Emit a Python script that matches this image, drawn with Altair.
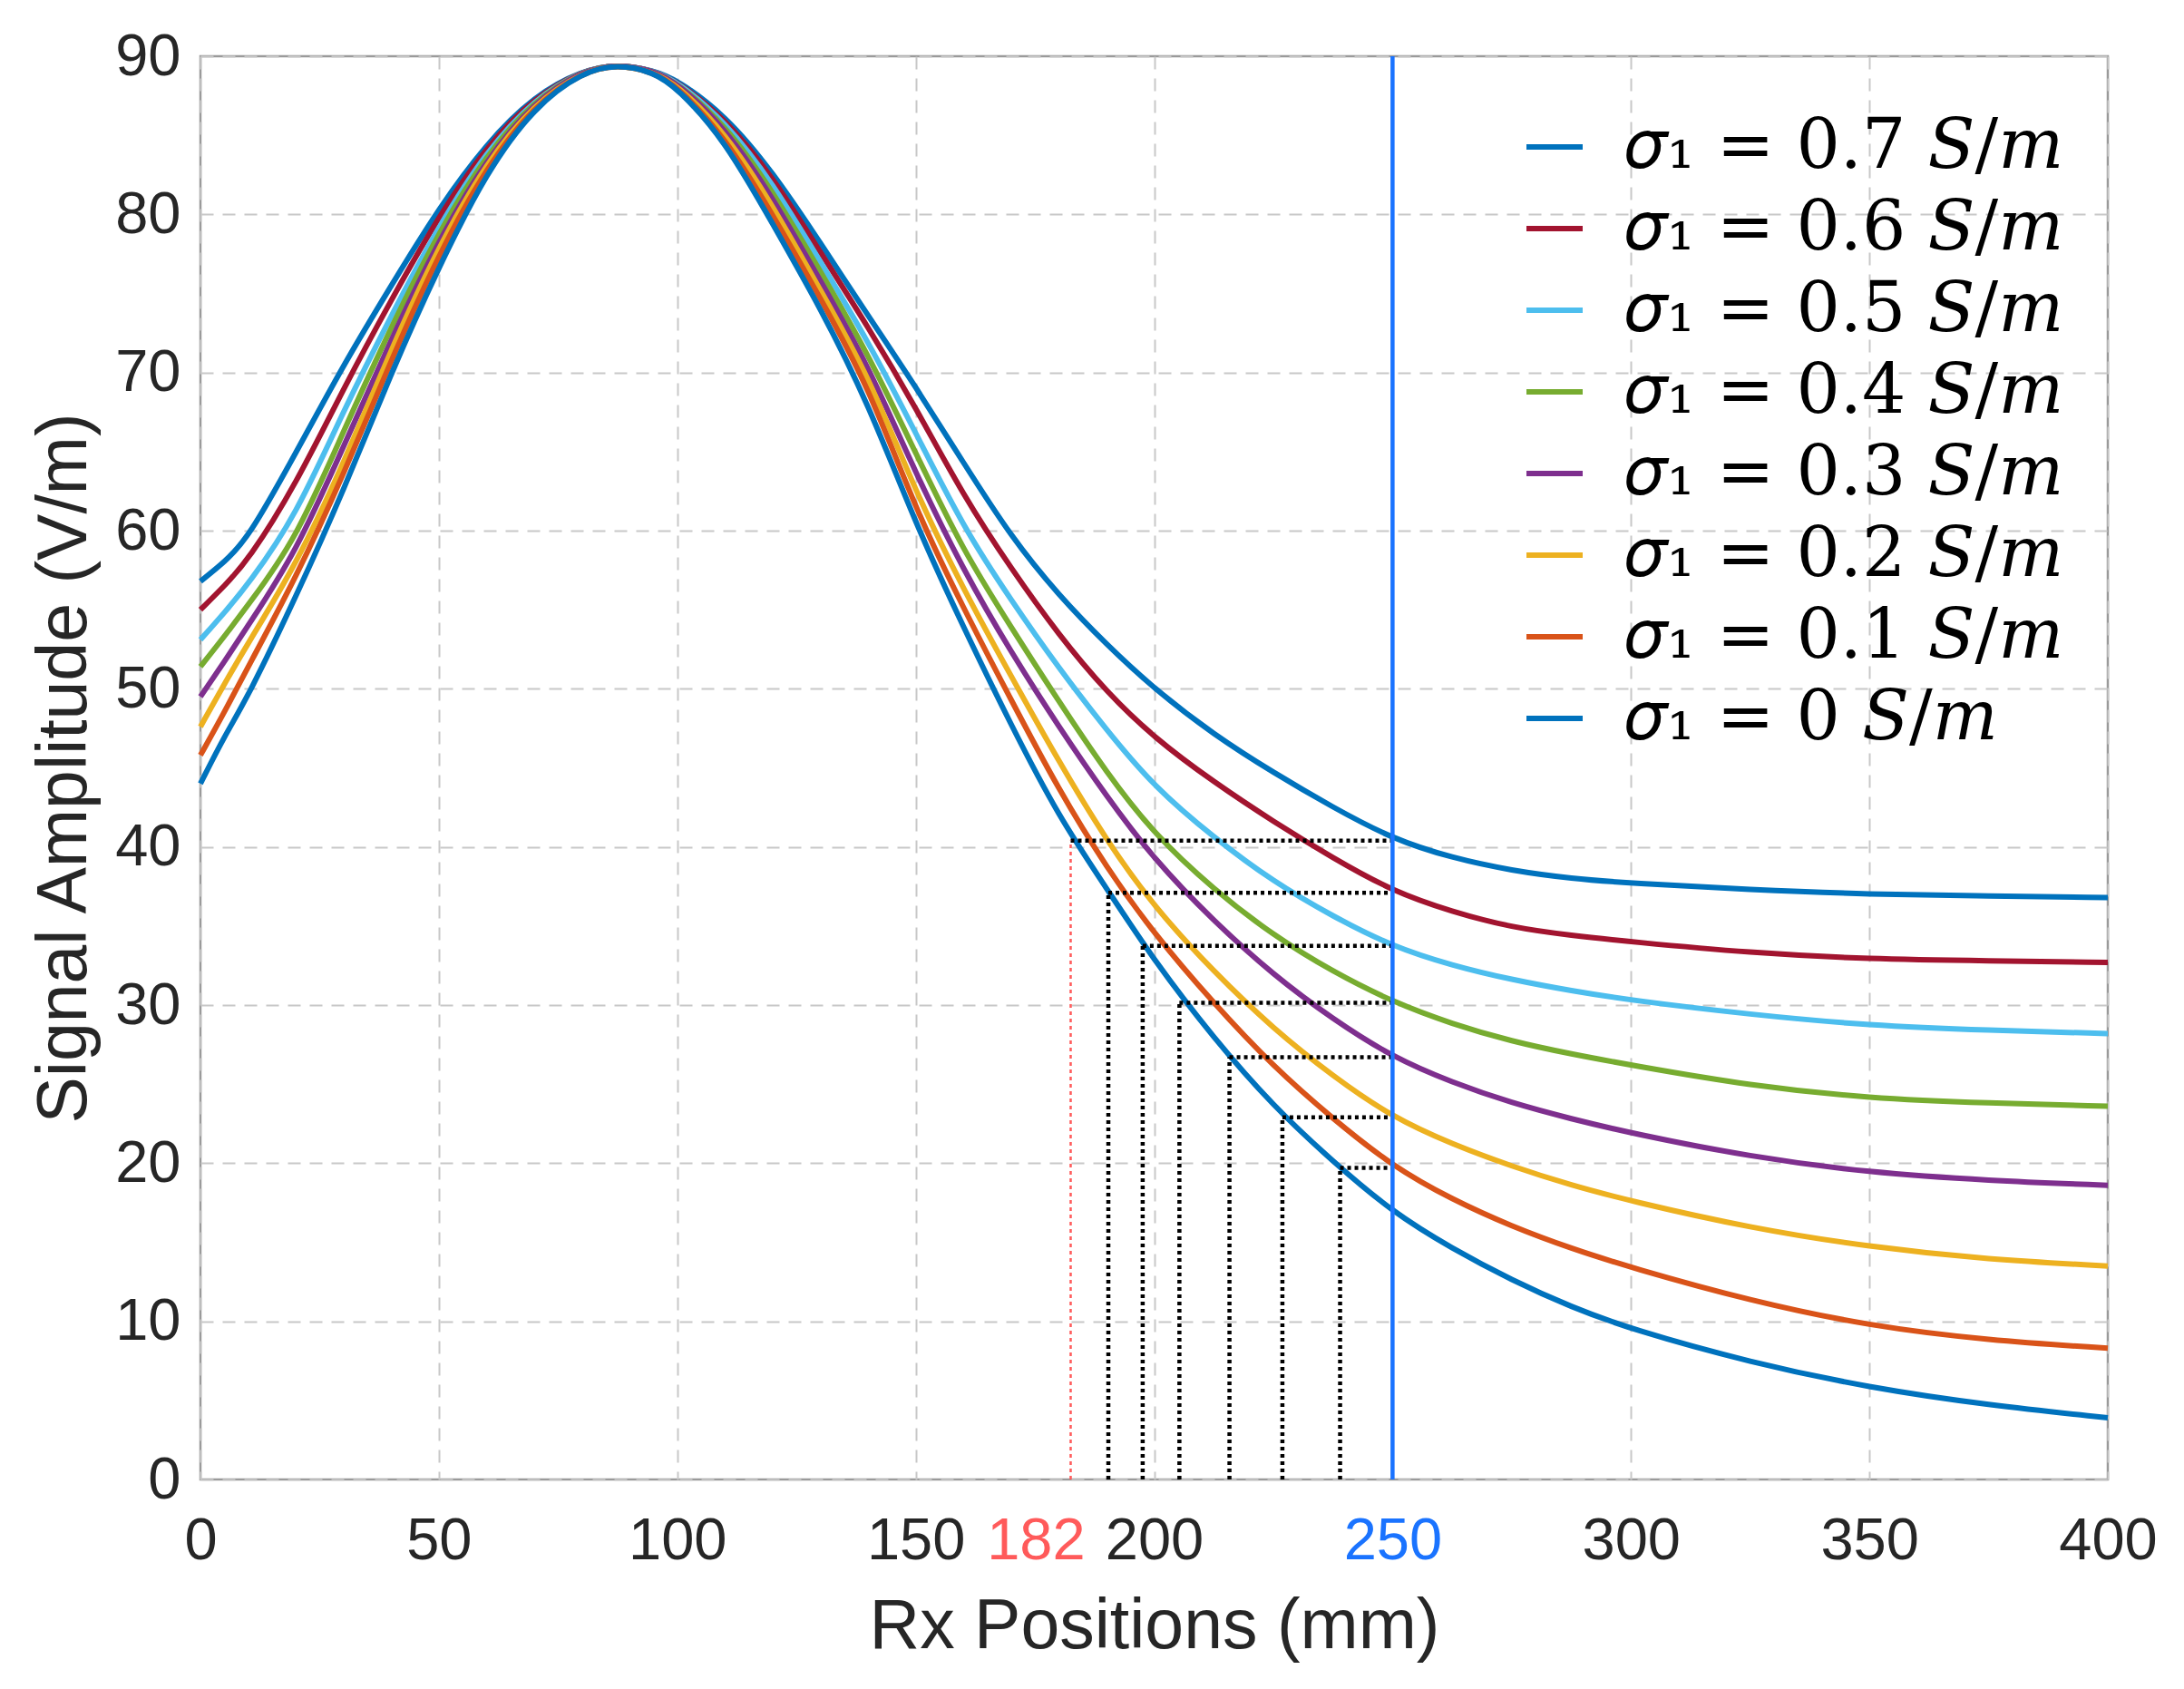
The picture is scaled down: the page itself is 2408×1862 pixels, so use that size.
import pandas as pd
import altair as alt

# Rx position grid (mm) shared by all curves
X_MM = [0, 5, 10, 20, 30, 40, 50, 60, 70, 80, 87.5, 95, 100, 110, 120, 130, 140,
        150, 160, 170, 180, 190, 200, 212.5, 225, 237.5, 250, 262.5, 275, 287.5,
        300, 325, 350, 375, 400]

# signal amplitude (V/m), one list per conductivity
S07 = [56.8, 58.0, 59.5, 64.9, 70.5, 75.5, 80.4, 84.5, 87.5, 89.1, 89.5, 89.1, 88.5, 86.3,
       82.7, 78.2, 73.6, 69.1, 64.3, 59.6, 55.9, 52.8, 50.0, 47.1, 44.7, 42.5, 40.5, 39.3,
       38.5, 38.0, 37.7, 37.3, 37.0, 36.9, 36.8]
S06 = [55.0, 56.5, 58.1, 62.9, 69.0, 74.6, 79.9, 84.3, 87.4, 89.1, 89.5, 89.1, 88.4, 86.1,
       82.4, 77.6, 72.9, 67.8, 62.2, 57.6, 53.4, 49.8, 46.9, 44.1, 41.6, 39.3, 37.2, 35.9,
       34.9, 34.4, 34.0, 33.3, 32.9, 32.8, 32.7]
S05 = [53.1, 54.8, 56.6, 60.9, 67.6, 73.6, 79.3, 84.0, 87.3, 89.1, 89.5, 89.1, 88.4, 85.9,
       82.0, 77.0, 72.0, 66.2, 60.2, 55.6, 51.3, 47.4, 43.8, 40.6, 37.8, 35.6, 33.7, 32.5,
       31.6, 30.9, 30.3, 29.4, 28.7, 28.4, 28.2]
S04 = [51.4, 53.3, 55.3, 59.4, 66.3, 72.9, 78.9, 83.8, 87.2, 89.1, 89.5, 89.1, 88.3, 85.7,
       81.5, 76.4, 71.2, 64.9, 58.7, 53.9, 49.2, 44.7, 40.8, 37.3, 34.4, 32.1, 30.2, 28.8,
       27.7, 26.9, 26.2, 24.9, 24.1, 23.8, 23.6]
S03 = [49.5, 51.7, 54.0, 58.6, 65.3, 72.1, 78.4, 83.5, 87.1, 89.1, 89.5, 89.1, 88.3, 85.5,
       81.1, 75.8, 70.5, 63.6, 57.5, 52.3, 47.6, 43.2, 39.2, 35.3, 31.9, 29.1, 26.7, 25.1,
       23.8, 22.8, 21.9, 20.4, 19.4, 18.9, 18.6]
S02 = [47.6, 50.3, 52.9, 57.8, 64.2, 71.5, 78.0, 83.3, 87.0, 89.0, 89.5, 89.0, 88.2, 85.2,
       80.6, 75.2, 69.9, 62.4, 56.3, 50.8, 45.4, 40.4, 36.2, 32.1, 28.5, 25.5, 22.9, 21.2,
       19.8, 18.6, 17.6, 15.9, 14.7, 13.9, 13.5]
S01 = [45.8, 48.5, 51.4, 57.0, 63.5, 70.8, 77.5, 83.0, 86.9, 89.0, 89.5, 89.0, 88.1, 84.9,
       80.0, 74.7, 69.2, 61.3, 55.1, 49.3, 43.6, 38.7, 34.5, 30.1, 26.1, 22.8, 19.8, 17.7,
       16.0, 14.6, 13.4, 11.3, 9.7, 8.8, 8.3]
S00 = [44.0, 47.0, 49.5, 55.8, 62.5, 70.0, 76.7, 82.7, 86.8, 89.0, 89.5, 89.0, 88.0, 84.7,
       79.4, 74.1, 68.1, 60.4, 53.9, 47.7, 41.9, 37.4, 32.8, 27.9, 23.6, 20.1, 16.9, 14.6,
       12.6, 10.9, 9.5, 7.4, 5.8, 4.7, 3.9]

SIGMAS = ["0.7", "0.6", "0.5", "0.4", "0.3", "0.2", "0.1", "0"]
SERIES = [S07, S06, S05, S04, S03, S02, S01, S00]
COLORS = ["#0072BD", "#A2142F", "#4DBEEE", "#77AC30", "#7E2F8E", "#EDB120", "#D95319", "#0072BD"]
LABELS = [f"\U0001D70E\u2081 = {s} \U0001D446/\U0001D45A" for s in SIGMAS]

# where the sigma=0 curve reaches each curve's value at 250 mm
DROP_X = [182.5, 190.4, 197.6, 205.3, 215.8, 226.9, 239.0]
DROP_Y = [40.4, 37.1, 33.75, 30.15, 26.7, 22.9, 19.7]
MARK_X = 250

X_TICKS = [0, 50, 100, 150, 182, 200, 250, 300, 350, 400]
Y_TICKS = [0, 10, 20, 30, 40, 50, 60, 70, 80, 90]

FONT = "Liberation Sans"
TEXT_COLOR = "#262626"

rows = []
for label, ys in zip(LABELS, SERIES):
    for x, y in zip(X_MM, ys):
        rows.append({"x": x, "amp": y, "label": label})
curves = pd.DataFrame(rows)

drops = pd.DataFrame({"x": DROP_X, "y": DROP_Y, "x_end": MARK_X, "y0": 0})
black_drops = drops.iloc[1:]
red_drop = drops.iloc[:1]

x_axis = alt.Axis(
    values=X_TICKS,
    title="Rx Positions (mm)",
    labelFontSize=65,
    labelFont=FONT,
    labelColor={
        "condition": [
            {"test": "datum.value === 182", "value": "#FF5A5A"},
            {"test": "datum.value === 250", "value": "#1A73FF"},
        ],
        "value": TEXT_COLOR,
    },
    # the 182 label sits a little left of its tick so it clears 200
    labelOffset={"condition": {"test": "datum.value === 182", "value": -36}, "value": 0},
    labelPadding=36,
    labelFlush=False,
    labelOverlap=False,
    gridOpacity={
        "condition": {"test": "datum.value === 182 || datum.value === 250", "value": 0},
        "value": 1,
    },
    ticks=False,
    domain=False,
    titleFontSize=77,
    titlePadding=24,
)

y_axis = alt.Axis(
    values=Y_TICKS,
    title="Signal Amplitude (V/m)",
    labelFontSize=65,
    labelFont=FONT,
    labelColor=TEXT_COLOR,
    labelPadding=22,
    labelFlush=False,
    labelOverlap=False,
    ticks=False,
    domain=False,
    titleFontSize=77,
    titlePadding=16,
)

lines = (
    alt.Chart(curves)
    .mark_line(strokeWidth=6, interpolate="basis")
    .encode(
        x=alt.X("x:Q", scale=alt.Scale(domain=[0, 400], nice=False), axis=x_axis),
        y=alt.Y("amp:Q", scale=alt.Scale(domain=[0, 90], nice=False), axis=y_axis),
        color=alt.Color(
            "label:N",
            sort=LABELS,
            scale=alt.Scale(domain=LABELS, range=COLORS),
            legend=alt.Legend(
                title=None,
                orient="none",
                legendX=1455,
                legendY=62,
                symbolType="stroke",
                symbolSize=3844,
                symbolStrokeWidth=6,
                labelFont="DejaVu Serif",
                labelFontSize=76,
                labelColor="black",
                labelOffset=40,
                rowPadding=14,
                padding=0,
                labelLimit=900,
            ),
        ),
    )
)

h_dots = (
    alt.Chart(drops)
    .mark_rule(color="black", strokeWidth=4.5, strokeDash=[4, 4])
    .encode(x="x:Q", x2="x_end:Q", y="y:Q")
)

v_dots = (
    alt.Chart(black_drops)
    .mark_rule(color="black", strokeWidth=4.5, strokeDash=[4, 4])
    .encode(x="x:Q", y="y0:Q", y2="y:Q")
)

v_red = (
    alt.Chart(red_drop)
    .mark_rule(color="#FF5A5A", strokeWidth=2.5, strokeDash=[4, 4])
    .encode(x="x:Q", y="y0:Q", y2="y:Q")
)

marker = (
    alt.Chart(pd.DataFrame({"x": [MARK_X]}))
    .mark_rule(color="#1A73FF", strokeWidth=4.5)
    .encode(x="x:Q")
)

chart = (
    alt.layer(lines, h_dots, v_dots, v_red, marker)
    .properties(
        width=2103,
        height=1569,
        padding={"left": 24, "top": 22, "right": 5, "bottom": 5},
        background="white",
    )
    .configure_axis(
        gridColor="#c8c8c8",
        gridDash=[14, 10],
        gridWidth=2,
        titleFont=FONT,
        titleFontWeight="normal",
        titleColor=TEXT_COLOR,
    )
    .configure_view(stroke="#9a9a9a", strokeWidth=2.5)
)

chart.save("out.html", embed_options={"renderer": "svg", "actions": False})
